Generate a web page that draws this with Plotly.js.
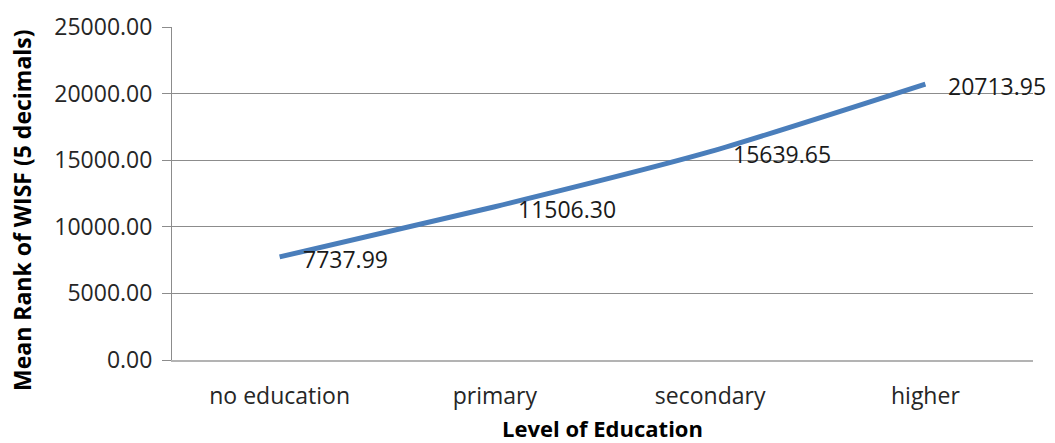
<!DOCTYPE html>
<html>
<head>
<meta charset="utf-8">
<script src="https://cdn.plot.ly/plotly-3.0.1.min.js"></script>
<style>html,body{margin:0;padding:0;background:#fff;}#chart{width:1055px;height:443px;}</style>
</head>
<body>
<div id="chart"></div>
<script>
const categories = ["no education", "primary", "secondary", "higher"];
const meanRank = [7737.99, 11506.30, 15639.65, 20713.95];
const yTickValues = [0, 5000, 10000, 15000, 20000, 25000];

const FONT = "Open Sans, Lato, sans-serif";

const trace = {
  type: "scatter",
  mode: "lines",
  x: categories,
  y: meanRank,
  line: {color: "#4A7EBB", width: 5, shape: "spline", smoothing: 0.6},
  hoverinfo: "x+y"
};

const labelAnnotations = categories.map((c, i) => ({
  x: c, y: meanRank[i], xref: "x", yref: "y",
  text: meanRank[i].toFixed(2),
  showarrow: false, xanchor: "left", yanchor: "middle",
  xshift: 21, yshift: -2,
  font: {family: FONT, size: 23, color: "#1a1a1a"}
}));

const layout = {
  width: 1055, height: 443,
  margin: {l: 172, r: 22, t: 27, b: 83},
  paper_bgcolor: "#ffffff", plot_bgcolor: "#ffffff",
  showlegend: false,
  font: {family: FONT, size: 23, color: "#262626"},
  xaxis: {
    type: "category",
    range: [-0.5, 3.5],
    showgrid: false,
    showline: true, linecolor: "#b3b3b3", linewidth: 2,
    ticks: "",
    ticklabelstandoff: 14,
    tickfont: {family: FONT, size: 23, color: "#262626"},
    title: {text: "Level of Education", font: {family: FONT, size: 22, color: "#000000", weight: "bold"}, standoff: 16},
    zeroline: false
  },
  yaxis: {
    range: [0, 25000],
    tickvals: yTickValues,
    tickformat: ".2f",
    showgrid: true, gridcolor: "#8c8c8c", gridwidth: 1,
    showline: true, linecolor: "#8c8c8c", linewidth: 1,
    ticks: "outside", ticklen: 9, tickcolor: "#8c8c8c", tickwidth: 1,
    ticklabelstandoff: 5,
    tickfont: {family: FONT, size: 23, color: "#262626"},
    zeroline: false
  },
  annotations: labelAnnotations.concat([{
    xref: "paper", yref: "paper",
    x: (22 - 172) / 861, y: (360 - 210) / 333,
    xanchor: "center", yanchor: "middle",
    textangle: -90, showarrow: false,
    text: "Mean Rank of WISF (5 decimals)",
    font: {family: FONT, size: 23, color: "#000000", weight: "bold"}
  }])
};

Plotly.newPlot("chart", [trace], layout, {displayModeBar: false, staticPlot: true});
</script>
</body>
</html>
